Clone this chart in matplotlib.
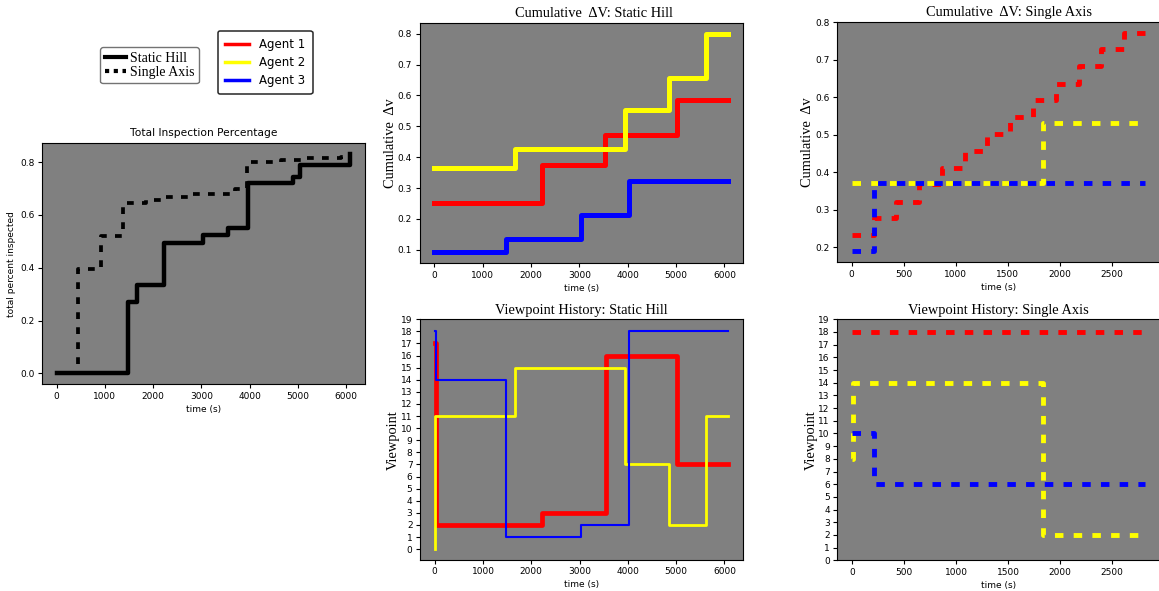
import matplotlib
matplotlib.use("Agg")
import matplotlib.pyplot as plt
from matplotlib.lines import Line2D

plt.rcParams['font.family'] = ['DejaVu Sans']
plt.rcParams['font.size'] = 6.5
plt.rcParams['xtick.major.size'] = 2.8
plt.rcParams['ytick.major.size'] = 2.8
plt.rcParams['xtick.major.pad'] = 2.6
plt.rcParams['ytick.major.pad'] = 2.6
plt.rcParams['axes.labelpad'] = 2.8

SERIF = ['Liberation Serif', 'DejaVu Serif']

# total inspection percentage (both missions)
static_t = [0, 1487, 1660, 2227, 3043, 3548, 3956, 4896, 5048, 6086]
static_p = [0, 0.272, 0.335, 0.494, 0.525, 0.552, 0.722, 0.743, 0.790, 0.830]
single_t = [0, 450, 913, 1383, 1853, 2250, 2780, 3700, 3942, 4650, 5100, 5900, 6086]
single_p = [0, 0.396, 0.521, 0.645, 0.657, 0.667, 0.680, 0.700, 0.800, 0.810, 0.815, 0.820, 0.830]

# cumulative delta-v, static hill
hill_dv_t1 = [0, 2230, 3540, 5010, 6080]
hill_dv_1 = [0.252, 0.376, 0.471, 0.586, 0.586]
hill_dv_t2 = [0, 1665, 3940, 4850, 5610, 6080]
hill_dv_2 = [0.365, 0.428, 0.554, 0.655, 0.800, 0.800]
hill_dv_t3 = [0, 1480, 3030, 4030, 6080]
hill_dv_3 = [0.092, 0.135, 0.212, 0.324, 0.324]

# cumulative delta-v, single axis
axis_dv_t1 = [0, 215, 430, 650, 865, 1085, 1300, 1520, 1740, 1960, 2180, 2395, 2615, 2820]
axis_dv_1 = [0.233, 0.277, 0.322, 0.369, 0.412, 0.458, 0.502, 0.547, 0.594, 0.637, 0.683, 0.728, 0.772, 0.772]
axis_dv_t2 = [0, 1835, 2820]
axis_dv_2 = [0.371, 0.531, 0.531]
axis_dv_t3 = [0, 215, 2820]
axis_dv_3 = [0.189, 0.371, 0.371]

# viewpoint history, static hill
hill_vp_t1 = [0, 20, 2230, 3540, 5010, 6080]
hill_vp_1 = [17, 2, 3, 16, 7, 7]
hill_vp_t2 = [0, 10, 1665, 3940, 4850, 5610, 6080]
hill_vp_2 = [0, 11, 15, 7, 2, 11, 11]
hill_vp_t3 = [0, 30, 1480, 3030, 4030, 6080]
hill_vp_3 = [18, 14, 1, 2, 18, 18]

# viewpoint history, single axis
axis_vp_t1 = [0, 2820]
axis_vp_1 = [18, 18]
axis_vp_t2 = [0, 10, 1835, 2820]
axis_vp_2 = [8, 14, 2, 2]
axis_vp_t3 = [0, 215, 2820]
axis_vp_3 = [10, 6, 6]

agents = ['Agent 1', 'Agent 2', 'Agent 3']
colors = ['red', 'yellow', 'blue']
viewpoints = list(range(20))

W, H = 1159, 591
fig = plt.figure(figsize=(W / 100, H / 100), dpi=100)


def box(l, t, r, b):
    return [l / W, 1 - b / H, (r - l) / W, (b - t) / H]


def gray_axes(rect):
    ax = fig.add_axes(rect)
    ax.set_facecolor('gray')
    return ax


dash_right = (0, (1.75, 2.1))

# left: total inspection
ax0 = gray_axes(box(42, 143.3, 365, 384.3))
ax0.plot(static_t, static_p, color='black', lw=3.2, drawstyle='steps-post')
ax0.plot(single_t, single_p, color='black', lw=2.7, ls=(0, (1.8, 2.2)), drawstyle='steps-post')
ax0.set_title('Total Inspection Percentage', fontsize=7.7, pad=5)
ax0.set_xlabel('time (s)')
ax0.set_ylabel('total percent inspected')

# top middle: cumulative dv static hill
ax1 = gray_axes(box(419.5, 22.7, 743, 263.3))
for t, v, c in zip([hill_dv_t1, hill_dv_t2, hill_dv_t3], [hill_dv_1, hill_dv_2, hill_dv_3], colors):
    ax1.plot(t, v, color=c, lw=3.6, drawstyle='steps-post')
ax1.set_title('Cumulative  \u0394V: Static Hill', family=SERIF, fontsize=10.4, x=0.54, pad=4)
ax1.set_xlabel('time (s)')
ax1.set_ylabel('Cumulative  \u0394v', family=SERIF, fontsize=10.4, labelpad=0.5)

# top right: cumulative dv single axis
ax2 = gray_axes(box(837, 22, 1160, 262.3))
for t, v, c in zip([axis_dv_t1, axis_dv_t2, axis_dv_t3], [axis_dv_1, axis_dv_2, axis_dv_3], colors):
    ax2.plot(t, v, color=c, lw=3.5, ls=dash_right, drawstyle='steps-post')
ax2.set_title('Cumulative  \u0394V: Single Axis', family=SERIF, fontsize=10.4, x=0.533, pad=4)
ax2.set_xlabel('time (s)')
ax2.set_ylabel('Cumulative  \u0394v', family=SERIF, fontsize=10.4, labelpad=0.5)

# bottom middle: viewpoint history static hill
ax3 = gray_axes(box(420, 319.3, 743, 560))
widths = [3.4, 2.0, 1.5]
for t, v, c, w in zip([hill_vp_t1, hill_vp_t2, hill_vp_t3], [hill_vp_1, hill_vp_2, hill_vp_3], colors, widths):
    ax3.plot(t, v, color=c, lw=w, drawstyle='steps-post')
ax3.set_yticks(viewpoints)
ax3.set_ylim(-0.9, 19)
ax3.set_title('Viewpoint History: Static Hill', family=SERIF, fontsize=10.4, pad=4)
ax3.set_xlabel('time (s)')
ax3.set_ylabel('Viewpoint', family=SERIF, fontsize=10.4, labelpad=0.5)

# bottom right: viewpoint history single axis
ax4 = gray_axes(box(837.3, 319.3, 1160, 560.3))
for t, v, c in zip([axis_vp_t1, axis_vp_t2, axis_vp_t3], [axis_vp_1, axis_vp_2, axis_vp_3], colors):
    ax4.plot(t, v, color=c, lw=3.5, ls=dash_right, drawstyle='steps-post')
ax4.set_yticks(viewpoints)
ax4.set_ylim(0, 19)
ax4.set_title('Viewpoint History: Single Axis', family=SERIF, fontsize=10.4, pad=4)
ax4.set_xlabel('time (s)')
ax4.set_ylabel('Viewpoint', family=SERIF, fontsize=10.4, labelpad=0.5)

# legends
mission_handles = [Line2D([], [], color='black', lw=3),
                   Line2D([], [], color='black', lw=3, ls=(0, (1, 1.1)))]
leg1 = fig.legend(mission_handles, ['Static Hill', 'Single Axis'],
                  loc='upper left', bbox_to_anchor=(100 / W, 1 - 47 / H),
                  prop={'family': SERIF, 'size': 10}, handlelength=1.5,
                  handletextpad=0.3, borderpad=0.35, labelspacing=0.05,
                  borderaxespad=0, framealpha=1)
leg1.get_frame().set_edgecolor('0.45')

agent_handles = [Line2D([], [], color=c, lw=2.5) for c in colors]
leg2 = fig.legend(agent_handles, agents, loc='upper left',
                  bbox_to_anchor=(218 / W, 1 - 31 / H), fontsize=8.5,
                  handlelength=2.0, handletextpad=0.9, borderpad=0.6,
                  labelspacing=0.42, borderaxespad=0, framealpha=1)
leg2.get_frame().set_edgecolor('0.15')
leg2.get_frame().set_linewidth(1.1)

fig.savefig('out.png', dpi=100)
